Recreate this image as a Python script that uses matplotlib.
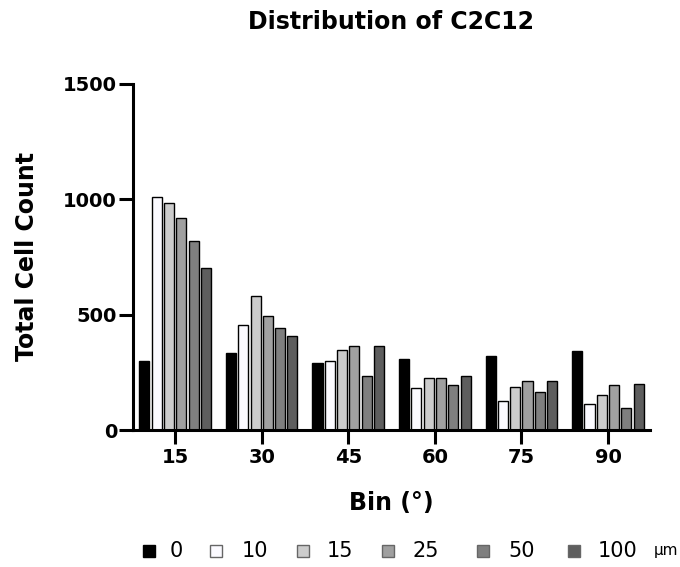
import matplotlib
matplotlib.use("Agg")
import matplotlib.pyplot as plt
import numpy as np
from matplotlib.patches import Rectangle

plt.rcParams['font.family'] = ['DejaVu Sans']

bins = [15, 30, 45, 60, 75, 90]
sizes = ['0', '10', '15', '25', '50', '100']
counts_0 = [299, 334, 290, 308, 321, 342]
counts_10 = [1010, 455, 299, 182, 126, 113]
counts_15 = [984, 581, 347, 225, 186, 152]
counts_25 = [919, 494, 364, 225, 212, 195]
counts_50 = [819, 442, 234, 195, 165, 95]
counts_100 = [702, 407, 364, 234, 212, 199]
series = [counts_0, counts_10, counts_15, counts_25, counts_50, counts_100]
colors = ['#000000', '#fbfaff', '#cccccc', '#a0a0a0', '#7f7f7f', '#5e5e5e']

W, H = 680, 567
fig = plt.figure(figsize=(6.8, 5.67), dpi=100)
ax = fig.add_axes([0.1956, 0.2416, 0.7604, 0.6104])

x = np.array(bins, dtype=float)
pitch = 2.13
width = 1.75
for i, (vals, c) in enumerate(zip(series, colors)):
    offs = (i - 2.5) * pitch
    ax.bar(x + offs, vals, width=width, color=c, edgecolor='black',
           linewidth=1.0, label=sizes[i], zorder=2)

ax.set_xlim(7.7, 97.3)
ax.set_ylim(0, 1500)
ax.set_yticks([0, 500, 1000, 1500])
ax.set_xticks(bins)
for s in ['top', 'right']:
    ax.spines[s].set_visible(False)
for s in ['left', 'bottom']:
    ax.spines[s].set_linewidth(2.2)
ax.tick_params(axis='both', width=2.2, length=10, labelsize=14, direction='out', pad=1.5)
ax.tick_params(axis='x', pad=3)
for lab in ax.get_xticklabels() + ax.get_yticklabels():
    lab.set_fontweight('bold')

fig.text(27.5 / W, 1 - 257 / H, 'Total Cell Count', rotation=90,
         ha='center', va='center', fontsize=17, fontweight='bold')
fig.text(391 / W, 1 - 503 / H, 'Bin (°)', ha='center', va='center',
         fontsize=17, fontweight='bold')
fig.text(391 / W, 1 - 29 / H, 'Distribution of C2C12', ha='center', va='baseline',
         fontsize=17, fontweight='bold')

# legend laid out by hand, items are unevenly spaced in the original
sq_left = [143, 210, 297, 382, 477, 568]
txt_left = [170, 242, 327, 413, 508, 598]
for c, lbl, sx, tx in zip(colors, sizes, sq_left, txt_left):
    ec = 'black' if c == '#000000' else '#666666'
    fig.add_artist(Rectangle((sx / W, 1 - 557 / H), 12 / W, 12 / H, facecolor=c,
                             edgecolor=ec, linewidth=1.0, transform=fig.transFigure))
    fig.text(tx / W, 1 - 551 / H, lbl, ha='left', va='center', fontsize=15)
fig.text(666 / W, 1 - 550 / H, 'µm', ha='center', va='center', fontsize=11)

fig.savefig('out.png', dpi=100)
